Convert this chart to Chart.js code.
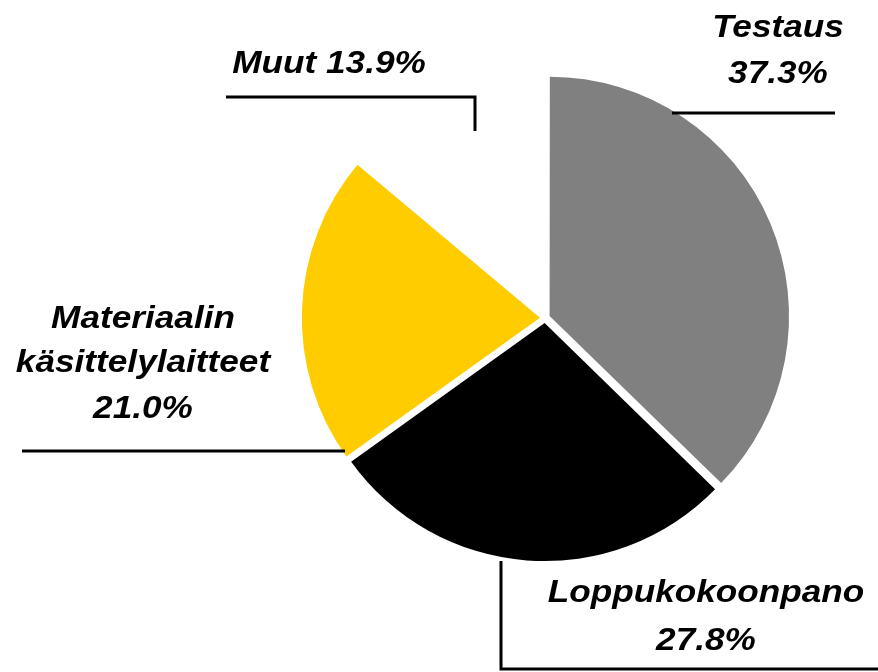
<!DOCTYPE html>
<html>
<head>
<meta charset="utf-8">
<script src="https://cdn.jsdelivr.net/npm/chart.js@4/dist/chart.umd.min.js"></script>
<style>
    html, body { margin: 0; padding: 0; background: #fff; }
    #wrap { width: 878px; height: 672px; position: relative; }
</style>
</head>
<body>
<div id="wrap"><canvas id="pieChart"></canvas></div>
<script>
const categories = ['Testaus', 'Loppukokoonpano', 'Materiaalin käsittelylaitteet', 'Muut'];
const shares = [37.3, 27.8, 21.0, 13.9];
const sliceColors = ['#808080', '#000000', '#FFCC00', '#FFFFFF'];

// label placement relative to the pie centre (text lines + leader polyline)
const labelLayout = [
    { lines: ['Testaus', '{v}'], dx: 233, dy: [-281, -235], leader: [[127, -205], [290, -205]] },
    { lines: ['Loppukokoonpano', '{v}'], dx: 161, dy: [284, 332], leader: [[-44, 243], [-44, 351], [333, 351]] },
    { lines: ['Materiaalin', 'käsittelylaitteet', '{v}'], dx: -402, dy: [10, 54, 100], leader: [[-523, 133], [-200, 133]] },
    { lines: ['Muut {v}'], dx: -216, dy: [-245], leader: [[-319, -221], [-70, -221], [-70, -187]] }
];

const calloutPlugin = {
    id: 'callouts',
    afterDatasetsDraw(chart) {
        const ctx = chart.ctx;
        const arc = chart.getDatasetMeta(0).data[0];
        const cx = arc.x, cy = arc.y;
        const stretch = 1.1;
        ctx.save();
        ctx.strokeStyle = '#000';
        ctx.lineWidth = 3;
        ctx.fillStyle = '#000';
        ctx.font = 'italic bold 32px "Liberation Sans", Arial, sans-serif';
        ctx.textAlign = 'center';
        ctx.textBaseline = 'alphabetic';
        labelLayout.forEach((lab, i) => {
            const val = shares[i].toFixed(1) + '%';
            lab.lines.forEach((ln, j) => {
                ctx.save();
                ctx.translate(cx + lab.dx, cy + lab.dy[j]);
                ctx.scale(stretch, 1);
                ctx.fillText(ln.replace('{v}', val), 0, 0);
                ctx.restore();
            });
            ctx.beginPath();
            lab.leader.forEach((p, k) => {
                if (k === 0) ctx.moveTo(cx + p[0], cy + p[1]);
                else ctx.lineTo(cx + p[0], cy + p[1]);
            });
            ctx.stroke();
        });
        ctx.restore();
    }
};

const ctxPie = document.getElementById('pieChart').getContext('2d');
new Chart(ctxPie, {
    type: 'pie',
    data: {
        labels: categories,
        datasets: [{
            data: shares,
            backgroundColor: sliceColors,
            borderWidth: 0,
            offset: 20,
            radius: 238
        }]
    },
    options: {
        responsive: true,
        maintainAspectRatio: false,
        animation: false,
        layout: { padding: { left: 212, right: 0, top: 0, bottom: 36 } },
        plugins: {
            legend: { display: false },
            tooltip: { enabled: false }
        }
    },
    plugins: [calloutPlugin]
});
</script>
</body>
</html>
